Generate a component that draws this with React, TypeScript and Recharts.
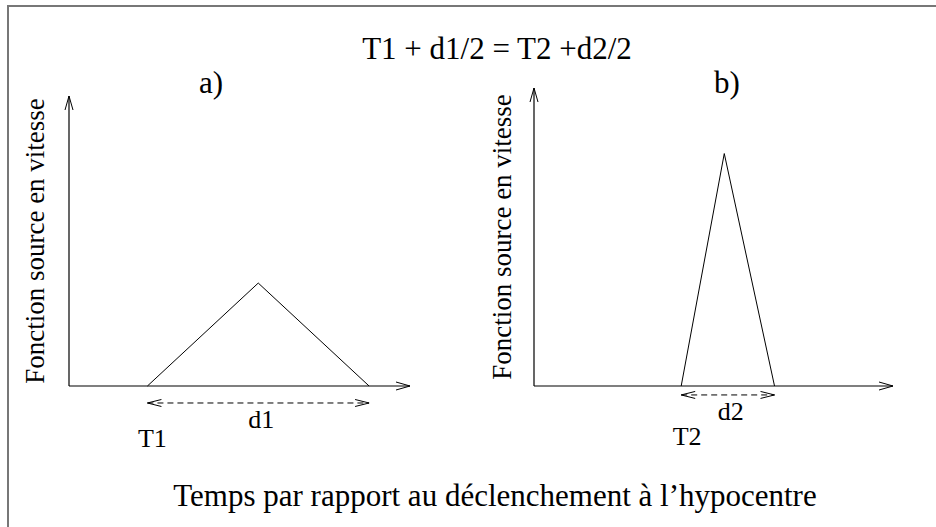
import { Line, LineChart, ReferenceDot, ReferenceLine, XAxis, YAxis } from "recharts";

// a) long source: onset T1, duration d1
const timeA = [2.3, 5.55, 8.8];
const sourceA = [0, 0.355, 0];
const spanA = [2.3, 8.8];

// b) short source: onset T2, duration d2
const timeB = [4.1, 5.3, 6.7];
const sourceB = [0, 0.78, 0];
const spanB = [4.1, 6.7];

const onsetLabels = ["T1", "T2"];
const durationLabels = ["d1", "d2"];
const panelLabels = ["a)", "b)"];
const yTitle = "Fonction source en vitesse";
const xTitle = "Temps par rapport au déclenchement à l’hypocentre";
const equation = "T1 + d1/2 = T2 +d2/2";

const SERIF = "'Liberation Serif', 'Times New Roman', serif";
const INK = "#000";

const toRows = (t: number[], v: number[]) => t.map((x, i) => ({ t: x, v: v[i] }));

// label renderer: text placed under (or centred in) the element's viewBox
function serifLabel(text: string, opts: { below?: number; dx?: number; size?: number; rotate?: boolean }) {
  return (props: any) => {
    const vb = props.viewBox ?? {};
    const cx = (vb.x ?? 0) + (vb.width ?? 0) / 2 + (opts.dx ?? 0);
    if (opts.rotate) {
      const cy = (vb.y ?? 0) + (vb.height ?? 0) / 2;
      return (
        <text x={cx} y={cy} transform={`rotate(-90 ${cx} ${cy})`} textAnchor="middle" dominantBaseline="central" fontFamily={SERIF} fontSize={opts.size ?? 26} fill={INK}>
          {text}
        </text>
      );
    }
    const y = (vb.y ?? 0) + (vb.height ?? 0) + (opts.below ?? 0);
    return (
      <text x={cx} y={y} textAnchor="middle" fontFamily={SERIF} fontSize={opts.size ?? 26} fill={INK}>
        {text}
      </text>
    );
  };
}

type PanelProps = {
  left: number;
  width: number;
  margin: { top: number; right: number; bottom: number; left: number };
  axisWidth: number;
  rows: { t: number; v: number }[];
  span: number[];
  spanY: number;
  onset: string;
  onsetBelow: number;
  onsetDx: number;
  duration: string;
  durationBelow: number;
};

function DashedSpan(p: any) {
  return (
    <line
      x1={p.x1}
      y1={p.y1}
      x2={p.x2}
      y2={p.y2}
      stroke={INK}
      strokeWidth={1}
      strokeDasharray="6 4"
      markerStart="url(#spanHead)"
      markerEnd="url(#spanHead)"
    />
  );
}

function Panel(p: PanelProps) {
  return (
    <div style={{ position: "absolute", left: p.left, top: 0 }}>
      <LineChart width={p.width} height={527} data={p.rows} margin={p.margin}>
        <XAxis
          dataKey="t"
          type="number"
          domain={[0, 10]}
          height={1}
          tick={false}
          tickLine={false}
          axisLine={{ stroke: INK, strokeWidth: 1.2, markerEnd: "url(#axisHead)" } as any}
        />
        <YAxis
          type="number"
          domain={[0, 1]}
          width={p.axisWidth}
          tick={false}
          tickLine={false}
          axisLine={{ stroke: INK, strokeWidth: 1.2, markerStart: "url(#axisHead)" } as any}
          label={{ content: serifLabel(yTitle, { rotate: true, size: 27 }) } as any}
        />
        <Line type="linear" dataKey="v" stroke={INK} strokeWidth={1} dot={false} isAnimationActive={false} />
        <ReferenceLine
          segment={[
            { x: p.span[0], y: p.spanY },
            { x: p.span[1], y: p.spanY },
          ]}
          ifOverflow="visible"
          shape={DashedSpan}
          label={{ content: serifLabel(p.duration, { below: p.durationBelow, dx: 3 }) } as any}
        />
        <ReferenceDot
          x={p.span[0]}
          y={0}
          r={0}
          stroke="none"
          fill="none"
          ifOverflow="visible"
          label={{ content: serifLabel(p.onset, { below: p.onsetBelow, dx: p.onsetDx }) } as any}
        />
      </LineChart>
    </div>
  );
}

export default function App() {
  return (
    <div style={{ position: "absolute", left: 0, top: 0, width: 936, height: 527, background: "#fff", overflow: "hidden" }}>
      <svg width={0} height={0} style={{ position: "absolute" }}>
        <defs>
          <marker id="axisHead" markerUnits="userSpaceOnUse" viewBox="0 0 16 10" refX={15} refY={5} markerWidth={16} markerHeight={10} orient="auto-start-reverse">
            <path d="M1,1 L15,5 L1,9" fill="none" stroke={INK} strokeWidth={1} />
          </marker>
          <marker id="spanHead" markerUnits="userSpaceOnUse" viewBox="0 0 16 10" refX={15} refY={5} markerWidth={16} markerHeight={10} orient="auto-start-reverse">
            <path d="M1,1.5 L15,5 L1,8.5" fill="none" stroke={INK} strokeWidth={1} strokeDasharray="none" />
          </marker>
        </defs>
      </svg>

      <Panel
        left={0}
        width={468}
        margin={{ top: 96, right: 58, bottom: 140, left: 1 }}
        axisWidth={68}
        rows={toRows(timeA, sourceA)}
        span={spanA}
        spanY={-0.0586}
        onset={onsetLabels[0]}
        onsetBelow={61}
        onsetDx={5}
        duration={durationLabels[0]}
        durationBelow={25}
      />
      <Panel
        left={468}
        width={468}
        margin={{ top: 88, right: 43, bottom: 140, left: 2 }}
        axisWidth={64}
        rows={toRows(timeB, sourceB)}
        span={spanB}
        spanY={-0.03}
        onset={onsetLabels[1]}
        onsetBelow={59}
        onsetDx={6}
        duration={durationLabels[1]}
        durationBelow={25}
      />

      <svg width={936} height={527} style={{ position: "absolute", left: 0, top: 0, pointerEvents: "none" }}>
        {/* frame: top and left edges only */}
        <path d="M8,527 L8,6 L936,6" fill="none" stroke="#777" strokeWidth={2} />
        <g fontFamily={SERIF} fill={INK} fontSize={31} textAnchor="middle">
          <text x={497} y={59}>{equation}</text>
          <text x={211} y={93}>{panelLabels[0]}</text>
          <text x={727} y={93}>{panelLabels[1]}</text>
          <text x={495} y={506}>{xTitle}</text>
        </g>
      </svg>
    </div>
  );
}
